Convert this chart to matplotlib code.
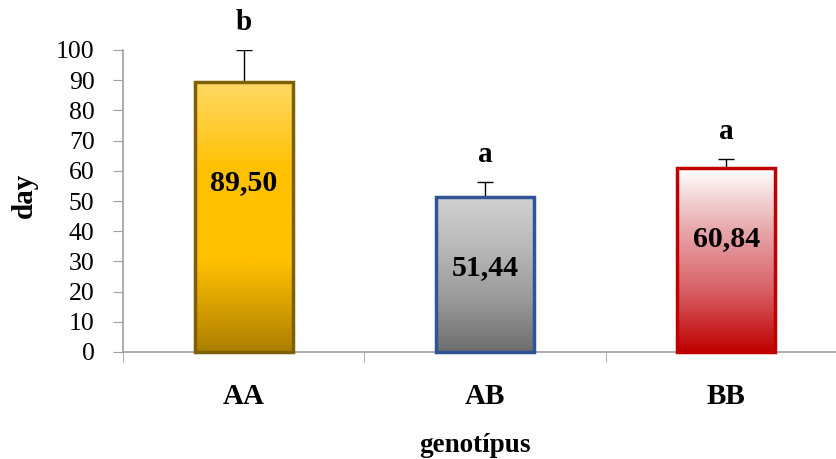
import numpy as np
import matplotlib
matplotlib.use("Agg")
import matplotlib.pyplot as plt
from matplotlib.colors import LinearSegmentedColormap
from matplotlib.patches import Rectangle

categories = ["AA", "AB", "BB"]
values = [89.50, 51.44, 60.84]
errors = [10.5, 5.0, 3.1]
value_labels = ["89,50", "51,44", "60,84"]
letters = ["b", "a", "a"]
y_ticks = [0, 10, 20, 30, 40, 50, 60, 70, 80, 90, 100]

grad_colors = [
    ["#FFD966", "#FFC000", "#FFC000", "#AD7F00"],
    ["#D2D2D2", "#B8B8B8", "#999999", "#6E6E6E"],
    ["#FFFFFF", "#E8A8AC", "#D76066", "#C00000"],
]
edge_colors = ["#7F6000", "#2F5597", "#C00000"]

plt.rcParams['font.family'] = ['Liberation Serif', 'DejaVu Serif']

fig = plt.figure(figsize=(8.36, 4.59), dpi=100)
W, H = 836, 459
ax = fig.add_axes([123 / W, (H - 352) / H, (836 - 123) / W, (352 - 50) / H])

x = np.arange(len(categories))
bw = 0.405
ax.set_xlim(-0.5, 2.455)
ax.set_ylim(0, 100)

for i, (v, cols, ec) in enumerate(zip(values, grad_colors, edge_colors)):
    cmap = LinearSegmentedColormap.from_list(f"g{i}", cols[::-1])
    grad = np.linspace(0, 1, 256).reshape(-1, 1)
    x0 = x[i] - bw / 2
    im = ax.imshow(grad, extent=[x0, x0 + bw, 0, v], origin="lower",
                   cmap=cmap, aspect="auto", zorder=2)
    clip = Rectangle((x0, 0), bw, v, transform=ax.transData)
    im.set_clip_path(clip)
    ax.add_patch(Rectangle((x0, 0), bw, v, fill=False, edgecolor=ec,
                           linewidth=2.5, zorder=3, clip_on=False))

ax.errorbar(x, values, yerr=[[0] * len(values), errors], fmt="none",
            ecolor="black", elinewidth=1, capsize=6, capthick=1, zorder=1)

label_y = [56, 28, 37.7]
for i in range(len(categories)):
    ax.text(x[i], label_y[i], value_labels[i], ha="center", va="center",
            fontsize=21.5, fontweight="bold", zorder=4)
    ax.text(x[i], values[i] + errors[i] + 9, letters[i], ha="center",
            va="center", fontsize=21, fontweight="bold", clip_on=False)

ax.set_xticks(x)
ax.set_xticklabels(categories, fontsize=21, fontweight="bold")
ax.set_xticks([-0.5, 0.5, 1.5], minor=True)
ax.tick_params(axis="x", which="major", length=0, pad=22)
ax.tick_params(axis="x", which="minor", length=7.5, color="#A0A0A0")
ax.set_yticks(y_ticks)
ax.set_yticklabels([str(t) for t in y_ticks], fontsize=18.5)
ax.tick_params(axis="y", length=7.5, color="#A0A0A0", pad=13)

for s in ["top", "right"]:
    ax.spines[s].set_visible(False)
for s in ["left", "bottom"]:
    ax.spines[s].set_color("#A0A0A0")
    ax.spines[s].set_linewidth(1.2)

ax.set_ylabel("day", fontsize=21, fontweight="bold")
ax.yaxis.label.set_horizontalalignment("center")
ax.yaxis.label.set_verticalalignment("center")
ax.yaxis.set_label_coords((24.5 - 123) / 713, (352 - 195) / 302)
ax.set_xlabel("genotípus", fontsize=19.5, fontweight="bold")
ax.xaxis.label.set_verticalalignment("center")
ax.xaxis.set_label_coords((475 - 123) / 713, -(446 - 352) / 302)

fig.savefig("out.png", dpi=100)
